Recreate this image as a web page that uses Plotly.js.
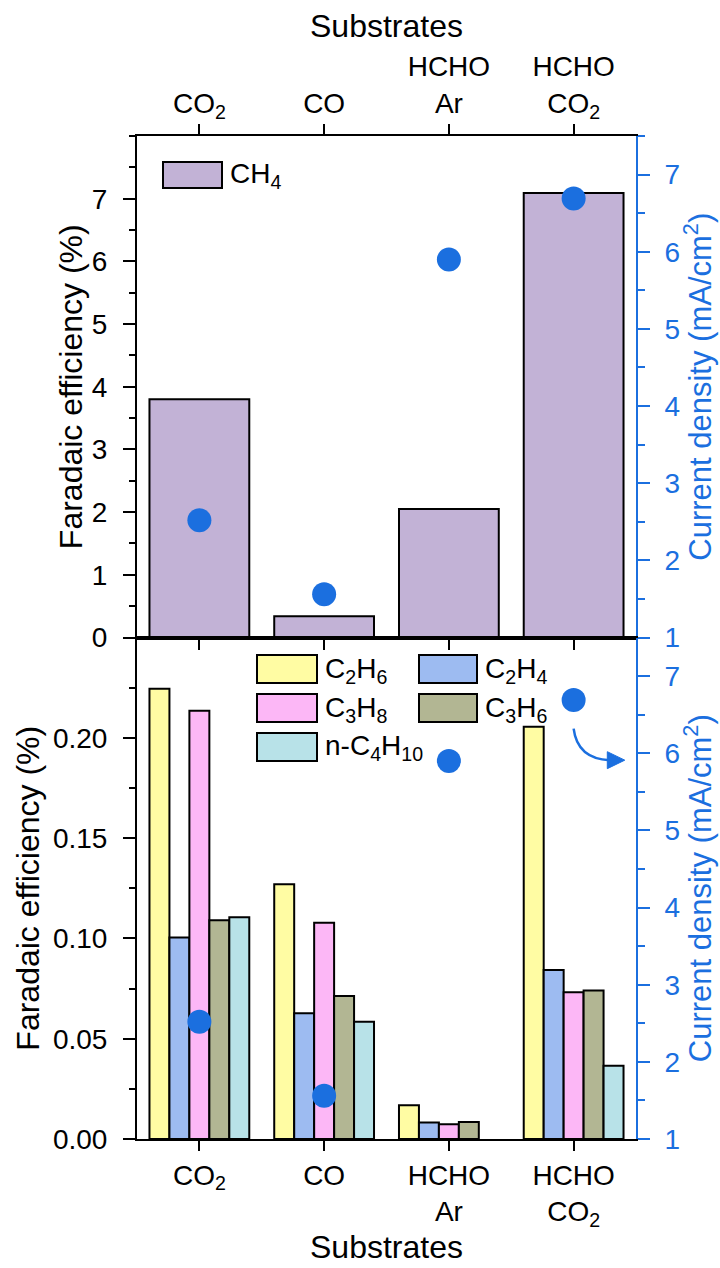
<!DOCTYPE html>
<html>
<head>
<meta charset="utf-8">
<script src="https://cdn.plot.ly/plotly-3.0.1.min.js"></script>
<style>
  html, body { margin: 0; padding: 0; background: #ffffff; }
  #chart { width: 720px; height: 1268px; }
</style>
</head>
<body>
<div id="chart"></div>
<script>
// Substrates on the shared category axis
const categories = ['CO<sub>2</sub>', 'CO', 'HCHO<br>Ar', 'HCHO<br>CO<sub>2</sub>'];

// Upper panel: CH4 Faradaic efficiency (%)
const ch4Name = 'CH<sub>4</sub>';
const ch4FE = [3.8, 0.34, 2.05, 7.09];

// Current density (mA/cm2), same values in both panels
const currentDensity = [2.52, 1.56, 5.9, 6.69];
const currentTitle = 'Current density (mA/cm<sup>2</sup>)';

// Lower panel: C2+ products Faradaic efficiency (%)
const productNames = ['C<sub>2</sub>H<sub>6</sub>', 'C<sub>2</sub>H<sub>4</sub>', 'C<sub>3</sub>H<sub>8</sub>', 'C<sub>3</sub>H<sub>6</sub>', 'n-C<sub>4</sub>H<sub>10</sub>'];
const c2h6FE = [0.2245, 0.127, 0.0168, 0.2055];
const c2h4FE = [0.1005, 0.0627, 0.0082, 0.0843];
const c3h8FE = [0.2135, 0.1078, 0.0073, 0.0732];
const c3h6FE = [0.109, 0.0713, 0.0085, 0.074];
const nc4h10FE = [0.1105, 0.0585, null, 0.0365];

// Left-axis ticks
const topTicks = [0, 1, 2, 3, 4, 5, 6, 7];
const bottomTicks = [0, 0.05, 0.1, 0.15, 0.2];
const bottomTickText = ['0.00', '0.05', '0.10', '0.15', '0.20'];
const currentTicks = [1, 2, 3, 4, 5, 6, 7];

const productSeries = [c2h6FE, c2h4FE, c3h8FE, c3h6FE, nc4h10FE];
const productColors = ['#FFFCA3', '#9DBBF1', '#FCB7F6', '#B2B693', '#B8E2E8'];
const ch4Color = '#C2B2D6';
const blue = '#1B6FDF';
const FONT = 'Liberation Sans, Arial, sans-serif';

// Plot area in pixels
const L = 137, R = 636, T = 136, B = 1139;
const W = 720, H = 1268;
const px = x => (x - L) / (R - L);
const py = y => (B - y) / (B - T);

const traces = [];

traces.push({
  type: 'bar', x: categories, y: ch4FE, name: ch4Name,
  xaxis: 'x', yaxis: 'y',
  marker: { color: ch4Color, line: { color: '#000', width: 2 } },
  showlegend: false, hoverinfo: 'skip'
});
traces.push({
  type: 'scatter', mode: 'markers', x: categories, y: currentDensity,
  xaxis: 'x', yaxis: 'y2',
  marker: { color: blue, size: 24 },
  showlegend: false, hoverinfo: 'skip'
});

productSeries.forEach((vals, k) => {
  traces.push({
    type: 'bar', x: categories, y: vals, name: productNames[k],
    xaxis: 'x2', yaxis: 'y3',
    marker: { color: productColors[k], line: { color: '#000', width: 2 } },
    showlegend: false, hoverinfo: 'skip'
  });
});
traces.push({
  type: 'scatter', mode: 'markers', x: categories, y: currentDensity,
  xaxis: 'x2', yaxis: 'y4',
  marker: { color: blue, size: 24 },
  showlegend: false, hoverinfo: 'skip'
});

const tickFont = { family: FONT, size: 28, color: '#000' };
const titleFont = { family: FONT, size: 32, color: '#000' };
const blueTickFont = { family: FONT, size: 28, color: blue };
const blueTitleFont = { family: FONT, size: 31, color: blue };

const leftAxis = (extra) => Object.assign({
  side: 'left', showline: true, linecolor: '#000', linewidth: 2,
  ticks: 'outside', ticklen: 12, tickwidth: 2, tickcolor: '#000',
  ticklabelstandoff: 10,
  tickfont: tickFont, showgrid: false, zeroline: false, fixedrange: true
}, extra);

const rightAxis = (extra) => Object.assign({
  side: 'right', showline: true, linecolor: blue, linewidth: 2,
  ticks: 'outside', ticklen: 12, tickwidth: 2, tickcolor: blue,
  ticklabelstandoff: 9,
  tickfont: blueTickFont, showgrid: false, zeroline: false, fixedrange: true,
  range: [1, 7.5], tickmode: 'array', tickvals: currentTicks,
  minor: { tickmode: 'linear', tick0: 1, dtick: 0.5, ticks: 'outside', ticklen: 7, tickwidth: 2, tickcolor: blue }
}, extra);

// Legend boxes drawn in pixel space
const shapes = [];
const annotations = [];
function legendItem(x0, y0, w, h, color, label) {
  shapes.push({
    type: 'rect', xref: 'paper', yref: 'paper',
    x0: px(x0), x1: px(x0 + w), y0: py(y0 + h), y1: py(y0),
    fillcolor: color, line: { color: '#000', width: 2 }
  });
  annotations.push({
    xref: 'paper', yref: 'paper', x: px(x0 + w + 6), y: py(y0 + h / 2 + 1),
    xanchor: 'left', yanchor: 'middle', showarrow: false,
    text: label, font: { family: FONT, size: 28, color: '#000' }
  });
}
legendItem(163, 162, 59, 26, ch4Color, ch4Name);
productNames.forEach((name, k) => {
  const col = k % 2, row = Math.floor(k / 2);
  legendItem(col === 0 ? 257 : 419, 655 + row * 39, col === 0 ? 60 : 58, 28, productColors[k], name);
});

// Right-axis titles, one per panel, centred on the panel height
[0.75, 0.25].forEach(yc => {
  annotations.push({
    xref: 'paper', yref: 'paper', x: px(698), y: yc,
    xanchor: 'center', yanchor: 'middle', showarrow: false, textangle: -90,
    borderpad: 0, text: currentTitle, font: blueTitleFont
  });
});

// Curved arrow from the last current-density point toward the right axis
const ia = 3, ya = currentDensity[3];
shapes.push({
  type: 'path', xref: 'x2', yref: 'y4',
  path: `M ${ia} ${ya - 0.37} Q ${ia + 0.03} ${ya - 0.76} ${ia + 0.29} ${ya - 0.78}`,
  line: { color: blue, width: 2.5 }
});
shapes.push({
  type: 'path', xref: 'x2', yref: 'y4',
  path: `M ${ia + 0.27} ${ya - 0.67} L ${ia + 0.41} ${ya - 0.78} L ${ia + 0.27} ${ya - 0.89} Z`,
  fillcolor: blue, line: { color: blue, width: 1 }
});

const layout = {
  width: W, height: H,
  margin: { l: L, r: W - R, t: T, b: H - B, pad: 0 },
  paper_bgcolor: '#fff', plot_bgcolor: '#fff',
  barmode: 'group', bargap: 0.2, bargroupgap: 0,
  showlegend: false,
  font: { family: FONT, color: '#000' },
  xaxis: {
    domain: [0, 1], anchor: 'y', side: 'top', type: 'category',
    range: [-0.5, 3.5], showline: true, linecolor: '#000', linewidth: 2,
    mirror: 'ticks', ticks: 'outside', ticklen: 10, tickwidth: 2, tickcolor: '#000',
    tickfont: tickFont, showgrid: false, fixedrange: true,
    title: { text: 'Substrates', font: titleFont, standoff: 4 }
  },
  xaxis2: {
    domain: [0, 1], anchor: 'y3', side: 'bottom', type: 'category',
    range: [-0.5, 3.5], showline: true, linecolor: '#000', linewidth: 2,
    mirror: true, ticks: 'outside', ticklen: 10, tickwidth: 2, tickcolor: '#000',
    tickfont: tickFont, showgrid: false, fixedrange: true,
    title: { text: 'Substrates', font: titleFont, standoff: 6 }
  },
  yaxis: leftAxis({
    domain: [0.5, 1], anchor: 'x', range: [0, 8],
    tickmode: 'array', tickvals: topTicks,
    minor: { tickmode: 'linear', tick0: 0, dtick: 0.5, ticks: 'outside', ticklen: 6, tickwidth: 2, tickcolor: '#000' },
    title: { text: 'Faradaic efficiency (%)', font: titleFont, standoff: 0 }
  }),
  yaxis2: rightAxis({ overlaying: 'y', anchor: 'x' }),
  yaxis3: leftAxis({
    domain: [0, 0.5], anchor: 'x2', range: [0, 0.25],
    tickmode: 'array', tickvals: bottomTicks, ticktext: bottomTickText,
    minor: { tickmode: 'linear', tick0: 0, dtick: 0.025, ticks: 'outside', ticklen: 6, tickwidth: 2, tickcolor: '#000' },
    title: { text: 'Faradaic efficiency (%)', font: titleFont, standoff: 4 }
  }),
  yaxis4: rightAxis({ overlaying: 'y3', anchor: 'x2' }),
  shapes: shapes,
  annotations: annotations
};

Plotly.newPlot('chart', traces, layout, { staticPlot: true, displayModeBar: false });
</script>
</body>
</html>
